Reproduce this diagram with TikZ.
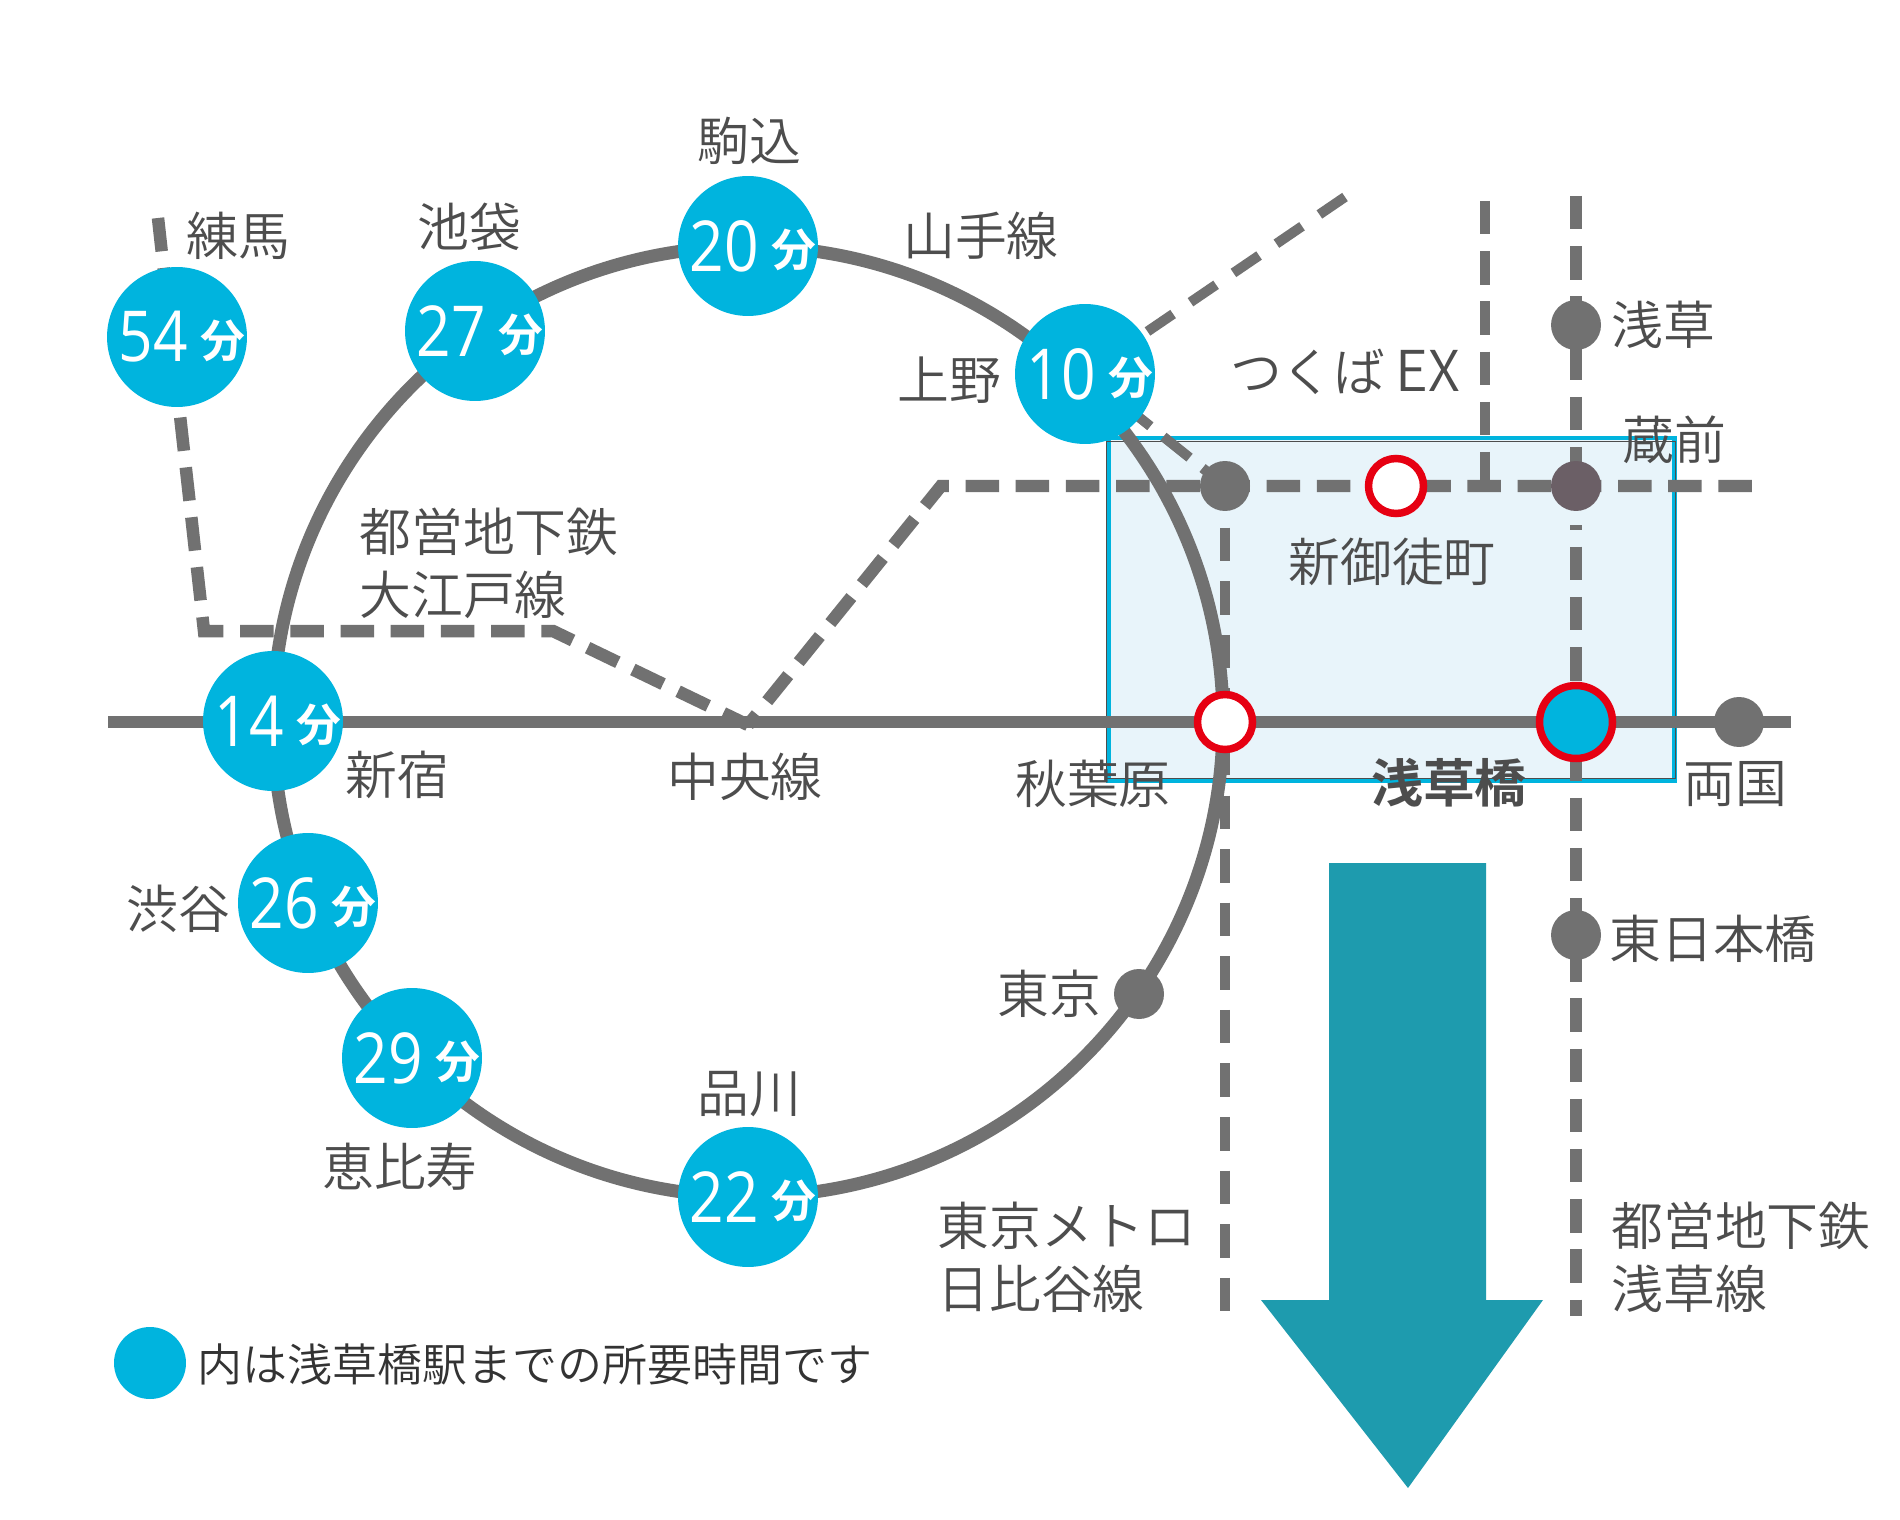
\documentclass[tikz,border=0pt]{standalone}
\usepackage{fontspec}
\usepackage{tikz}
\usepackage{xcolor}
\usetikzlibrary{backgrounds}
\setmainfont{Noto Sans CJK JP DemiLight}
\newfontfamily\boldjp{Noto Sans CJK JP Bold}
\newfontfamily\numfont[FakeStretch=0.86]{Open Sans}
\definecolor{linegray}{HTML}{717171}
\definecolor{textgray}{HTML}{4D4D4D}
\definecolor{timeblue}{HTML}{00B4DE}
\definecolor{areablue}{HTML}{E8F4FA}
\definecolor{stopred}{HTML}{E60012}
\definecolor{arrowteal}{HTML}{1E9BAE}
\definecolor{kuramaegray}{HTML}{6B5F66}
\newcommand{\mins}[1]{\hspace{0.2cm}\raisebox{-0.03cm}{\fontsize{40}{40}\selectfont\numfont #1}\hspace{0.26cm}\raisebox{0.06cm}{\fontsize{25.5}{26}\selectfont\boldjp 分}}
\begin{document}
\begin{tikzpicture}[x=0.02cm,y=-0.02cm,
  timedot/.style={circle,fill=timeblue,text=white,minimum size=2.8cm,inner sep=-0.8cm},
  graydot/.style={circle,fill=linegray,minimum size=1cm,inner sep=0pt},
  whitedot/.style={circle,draw=stopred,line width=0.15cm,fill=white,minimum size=1.1cm,inner sep=0pt},
  stationname/.style={text=textgray,font=\fontsize{29.5}{35.7}\selectfont,inner sep=0pt,align=left},
  solidline/.style={draw=linegray,line width=0.235cm},
  dashline/.style={draw=linegray,line width=0.25cm,dash pattern=on 0.67cm off 0.334cm},
  thindash/.style={draw=linegray,line width=0.2cm,dash pattern=on 0.67cm off 0.334cm}]
\useasboundingbox (0,0) rectangle (1900,1520);
% stations with travel time
\node[timedot] (nerima) at (177,337) {\mins{54}};
\node[timedot] (ikebukuro) at (475,331) {\mins{27}};
\node[timedot] (komagome) at (748,246) {\mins{20}};
\node[timedot] (ueno) at (1085,374) {\mins{10}};
\node[timedot] (shinjuku) at (273,721) {\mins{14}};
\node[timedot] (shibuya) at (308,903) {\mins{26}};
\node[timedot] (ebisu) at (412,1058) {\mins{29}};
\node[timedot] (shinagawa) at (748,1197) {\mins{22}};
% other stations
\node[graydot] (okachimachi) at (1225,486) {};
\node[graydot] (asakusa) at (1576,325) {};
\node[graydot,fill=kuramaegray] (kuramae) at (1576,486) {};
\node[graydot] (ryogoku) at (1739,722) {};
\node[graydot] (higashinihombashi) at (1576,935) {};
\node[graydot] (tokyo) at (1139,994) {};
\node[whitedot] (shinokachimachi) at (1396,486) {};
\node[whitedot] (akihabara) at (1225,722) {};
\node[whitedot,fill=timeblue,minimum size=1.46cm] (asakusabashi) at (1576,722) {};
% free ends of the lines
\coordinate (ringcentre) at (748,721.5);
\coordinate (chuowest) at (108,722);
\coordinate (chuoeast) at (1791,722);
\coordinate (oedotop) at (158,218);
\coordinate (oedocorner) at (204,631);
\coordinate (oedobend) at (553,631);
\coordinate (chuojoin) at (748,725);
\coordinate (oedoturn) at (941,486);
\coordinate (oedoeast) at (1752,486);
\coordinate (tsukubaend) at (1345,197);
\coordinate (tsukubatop) at (1485,201);
\coordinate (tsukubafoot) at (1485,486);
\coordinate (hibiyaend) at (1225,1312);
\coordinate (asakusatop) at (1576,196);
\coordinate (asakusagap) at (1576,525);
\coordinate (asakusaend) at (1576,1316);
\begin{scope}[on background layer]
\fill[white] (0,0) rectangle (1900,1520);
\fill[areablue] (1108,438) rectangle (1674,780);
\draw[timeblue,line width=0.1cm] (1108,438) rectangle (1674,780);
\draw[textgray,line width=0.02cm] (1106,441) rectangle (1675,778);
\draw[solidline,line width=0.26cm] (ringcentre) circle (475);
\draw[solidline] (chuowest) -- (chuoeast);
\draw[dashline] (oedotop) -- (oedocorner) -- (oedobend) -- (chuojoin);
\draw[dashline,dash phase=0.392cm] (chuojoin) -- (oedoturn) -- (oedoeast);
\draw[thindash,dash pattern=on 0.62cm off 0.42cm] (tsukubaend) -- (ueno.center);
\draw[thindash] (ueno.center) -- (okachimachi.center);
\draw[thindash] (tsukubatop) -- (tsukubafoot);
\draw[thindash,dash pattern=on 0.67cm off 0.402cm,dash phase=0.24cm] (okachimachi.center) -- (hibiyaend);
\draw[dashline] (asakusatop) -- (kuramae.center);
\draw[dashline,dash phase=0.57cm] (asakusagap) -- (asakusaend);
\end{scope}
% labels
\node[stationname] (komagomename) at (749,141) {駒込};
\node[stationname] (nerimaname) at (238,236) {練馬};
\node[stationname] (ikebukuroname) at (469,227) {池袋};
\node[stationname] (yamanotename) at (981,236) {山手線};
\node[stationname] (uenoname) at (949,380) {上野};
\node[stationname] (asakusaname) at (1663,325) {浅草};
\node[stationname] (tsukubaname) at (1345,372) {つくば\hspace{0.2cm}\fontsize{32}{35.7}\selectfont EX};
\node[stationname] (kuramaename) at (1674,440) {蔵前};
\node[stationname,anchor=west] (oedoname) at (359,563) {都営地下鉄\\大江戸線};
\node[stationname] (shinokachimachiname) at (1392,562) {新御徒町};
\node[stationname] (shinjukuname) at (397,775) {新宿};
\node[stationname] (chuoname) at (745,777) {中央線};
\node[stationname] (akihabaraname) at (1093,784) {秋葉原};
\node[stationname,font=\fontsize{29.5}{35.7}\selectfont\boldjp] (asakusabashiname) at (1449,783) {浅草橋};
\node[stationname] (ryogokuname) at (1735,784) {両国};
\node[stationname] (shibuyaname) at (178,909) {渋谷};
\node[stationname] (tokyoname) at (1049,994) {東京};
\node[stationname] (higashinihombashiname) at (1713,939) {東日本橋};
\node[stationname] (shinagawaname) at (749,1094) {品川};
\node[stationname] (ebisuname) at (400,1167) {恵比寿};
\node[stationname,anchor=west] (hibiyaname) at (937,1257) {東京メトロ\\日比谷線};
\node[stationname,anchor=west] (asakusalinename) at (1611,1257) {都営地下鉄\\浅草線};
% arrow
\fill[arrowteal] (1329,863) -- (1486,863) -- (1486,1300) -- (1543,1300) -- (1408,1488) -- (1261,1300) -- (1329,1300) -- cycle;
% legend
\node[circle,fill=timeblue,minimum size=1.44cm,inner sep=0pt] (legenddot) at (150,1363) {};
\node[anchor=west,inner sep=0pt,text=black!80,font=\fontsize{25.6}{30}\selectfont] (legendname) at (197,1364) {内は浅草橋駅までの所要時間です};
\end{tikzpicture}
\end{document}
